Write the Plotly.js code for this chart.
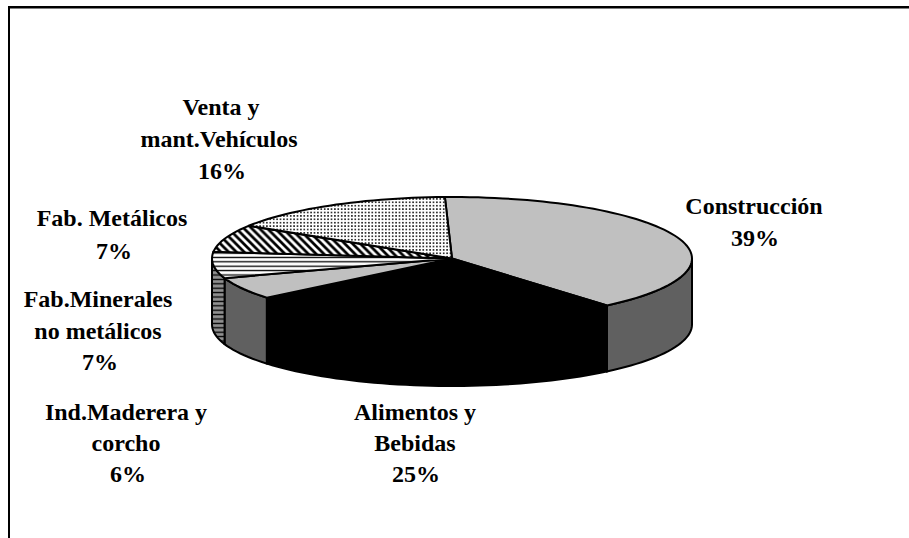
<!DOCTYPE html>
<html>
<head>
<meta charset="utf-8">
<script src="https://cdn.plot.ly/plotly-3.0.1.min.js"></script>
<style>html,body{margin:0;padding:0;background:#fff}#chart{width:909px;height:538px}</style>
</head>
<body>
<div id="chart"></div>
<script>
// Data (percent shares estimated from the slice boundaries in the picture; labels show them rounded)
const categories = ['Construcción', 'Alimentos y Bebidas', 'Ind.Maderera y corcho', 'Fab.Minerales no metálicos', 'Fab. Metálicos', 'Venta y mant.Vehículos'];
const values = [39.3, 25.2, 5.8, 6.9, 7.2, 15.6];
const labelLines = [['Construcción'], ['Alimentos y', 'Bebidas'], ['Ind.Maderera y', 'corcho'], ['Fab.Minerales', 'no metálicos'], ['Fab. Metálicos'], ['Venta y', 'mant.Vehículos']];

// Style per slice
const topStyles = [
  {fillcolor: '#C0C0C0'},
  {fillcolor: '#000000'},
  {fillcolor: '#C0C0C0'},
  {fillcolor: '#FFFFFF', fillpattern: {shape: '-', fgcolor: '#000', bgcolor: '#fff', size: 4.4, solidity: 0.3}},
  {fillcolor: '#FFFFFF', fillpattern: {shape: '\\', fgcolor: '#000', bgcolor: '#fff', size: 5.5, solidity: 0.5}},
  {fillcolor: '#FFFFFF', fillpattern: {shape: '.', fgcolor: '#000', bgcolor: '#fff', size: 3.4, solidity: 0.22}}
];
const sideStyles = [
  {fillcolor: '#606060'},
  {fillcolor: '#000000'},
  {fillcolor: '#606060'},
  {fillcolor: '#808080', fillpattern: {shape: '-', fgcolor: '#000', bgcolor: '#909090', size: 4.4, solidity: 0.3}},
  {fillcolor: '#808080'},
  {fillcolor: '#808080'}
];

// Projection of the tilted pie
const cx = 452, cy = 258.5, rx = 240, ry = 61.5, depth = 66, startAngle = -1.7;
const px = a => cx + rx * Math.sin(a * Math.PI / 180);
const py = (a, d) => cy - ry * Math.cos(a * Math.PI / 180) + d;
const arc = (a1, a2) => {
  const out = [], n = Math.max(2, Math.ceil(Math.abs(a2 - a1) / 2));
  for (let i = 0; i <= n; i++) out.push(a1 + (a2 - a1) * i / n);
  return out;
};

const total = values.reduce((s, v) => s + v, 0);
let acc = startAngle;
const spans = values.map(v => { const a = acc; acc += v / total * 360; return [a, acc]; });

const line = {color: '#000', width: 2, simplify: false};
const sideTraces = [], topTraces = [];
spans.forEach(([a1, a2], i) => {
  const s1 = Math.max(a1, 90), s2 = Math.min(a2, 270);
  if (s2 > s1) {
    const up = arc(s1, s2), down = arc(s2, s1);
    sideTraces.push(Object.assign({
      type: 'scatter', mode: 'lines', fill: 'toself', line,
      name: categories[i],
      x: up.map(px).concat(down.map(px), [px(s1)]),
      y: up.map(a => py(a, 0)).concat(down.map(a => py(a, depth)), [py(s1, 0)]),
      hoverinfo: 'skip'
    }, sideStyles[i]));
  }
  const ar = arc(a1, a2);
  topTraces.push(Object.assign({
    type: 'scatter', mode: 'lines', fill: 'toself', line,
    name: categories[i],
    x: [cx].concat(ar.map(px), [cx]),
    y: [cy].concat(ar.map(a => py(a, 0)), [cy]),
    hoverinfo: 'skip'
  }, topStyles[i]));
});

// Label block placement: line centres for each slice's label
const labelX = [[754, 755], [415, 415, 416], [126, 126, 128], [98, 98, 100], [112, 114], [221, 219, 222]];
const labelY = [[208, 240], [414, 445, 476], [414, 445, 476], [301, 333, 364], [220, 253], [109, 141, 173]];
const tx = [], ty = [], tt = [];
labelLines.forEach((lines, i) => {
  lines.concat([Math.round(values[i] / total * 100) + '%']).forEach((t, j) => {
    tx.push(labelX[i][j]); ty.push(labelY[i][j]); tt.push(t);
  });
});
const labelTrace = {
  type: 'scatter', mode: 'text', x: tx, y: ty, text: tt,
  textposition: 'middle center', hoverinfo: 'skip',
  textfont: {family: '"Liberation Serif", serif', size: 24, color: '#000', weight: 'bold'},
  cliponaxis: false
};

const layout = {
  width: 909, height: 538,
  margin: {l: 0, r: 0, t: 0, b: 0, pad: 0},
  paper_bgcolor: '#fff', plot_bgcolor: '#fff',
  showlegend: false, hovermode: false,
  xaxis: {range: [0, 909], visible: false, fixedrange: true},
  yaxis: {range: [538, 0], visible: false, fixedrange: true},
  shapes: [
    {type: 'line', xref: 'x', yref: 'y', x0: 8, x1: 909, y0: 7.3, y1: 7.3, line: {color: '#000', width: 2.4}},
    {type: 'line', xref: 'x', yref: 'y', x0: 9, x1: 9, y0: 7, y1: 538, line: {color: '#000', width: 2}}
  ]
};

Plotly.newPlot('chart', sideTraces.concat(topTraces, [labelTrace]), layout, {displayModeBar: false, staticPlot: true});
</script>
</body>
</html>
